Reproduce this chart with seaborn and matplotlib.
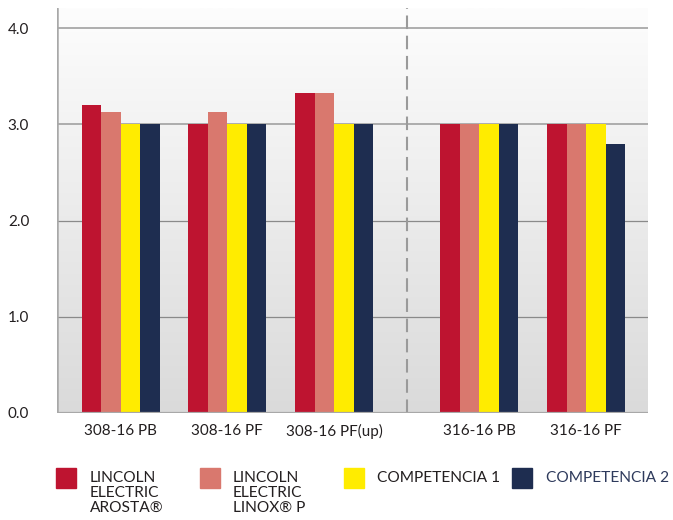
import numpy as np
import pandas as pd
import seaborn as sns
from matplotlib import pyplot as plt
from matplotlib.patches import Rectangle
from matplotlib.colors import LinearSegmentedColormap

# values
groups = ['308-16 PB', '308-16 PF', '308-16 PF(up)', '316-16 PB', '316-16 PF']
series = ['AROSTA', 'LINOX P', 'COMPETENCIA 1', 'COMPETENCIA 2']
legend_labels = ['LINCOLN\nELECTRIC\nAROSTA®', 'LINCOLN\nELECTRIC\nLINOX® P',
                 'COMPETENCIA 1', 'COMPETENCIA 2']
arosta = [3.2, 3.0, 3.33, 3.0, 3.0]
linox = [3.13, 3.13, 3.33, 3.0, 3.0]
comp1 = [3.0, 3.0, 3.0, 3.0, 3.0]
comp2 = [3.0, 3.0, 3.0, 3.0, 2.8]
y_ticks = [0, 1, 2, 3, 4]
y_labels = ['0.0', '1.0', '2.0', '3.0', '4.0']

# layout: group positions (gap before the 316 groups)
group_x = [0, 1, 2, 3.36, 4.36]
colors = ['#be1430', '#d9786e', '#ffec00', '#1e2d50']

rows = []
for name, vals in zip(series, [arosta, linox, comp1, comp2]):
    for gx, v in zip(group_x, vals):
        rows.append({'pos': gx, 'value': v, 'series': name})
df = pd.DataFrame(rows)

sns.set_style('white')
plt.rcParams['font.family'] = ['Lato', 'DejaVu Sans']

W, H = 673, 520
fig = plt.figure(figsize=(W / 100, H / 100), dpi=100)
ax = fig.add_axes([57 / W, 1 - 413 / H, (648 - 57) / W, (413 - 8) / H])

xlo, xhi, ytop = -0.595, 4.94, 4.21

# background gradient
cmap = LinearSegmentedColormap.from_list('bg', ['#dadada', '#fdfdfd'])
grad = np.linspace(0, 1, 256).reshape(-1, 1)
ax.imshow(grad, extent=[xlo, xhi, 0, ytop], aspect='auto', cmap=cmap,
          origin='lower', zorder=0)

for yv in [1, 2]:
    ax.axhline(yv, color='#8a8a8a', lw=0.9, zorder=1)
for yv in [3, 4]:
    ax.axhline(yv, color='#adadad', lw=1.4, zorder=1)

sns.barplot(data=df, x='pos', y='value', hue='series', hue_order=series,
            palette=colors, native_scale=True, width=0.73, errorbar=None,
            saturation=1, legend=False, linewidth=0, ax=ax, zorder=2)

ax.axvline(2.68, color='#9a9a9a', lw=1.5, linestyle=(0, (6.5, 3.2)), zorder=1)
ax.axhline(0, color='#a8a8a8', lw=1.6, zorder=3)
ax.axvline(xlo, color='#a8a8a8', lw=1.8, zorder=3)

ax.set_xlim(xlo, xhi)
ax.set_ylim(0, ytop)
for s in ax.spines.values():
    s.set_visible(False)

ax.set_yticks(y_ticks)
ax.set_yticklabels(y_labels)
ax.set_xticks(group_x)
ax.set_xticklabels(groups)
ax.tick_params(axis='y', length=0, pad=20, labelsize=11, labelcolor='#231f20')
ax.tick_params(axis='x', length=0, pad=8, labelsize=11, labelcolor='#231f20')
ax.set_xlabel('')
ax.set_ylabel('')

# legend drawn by hand to match the layout
sq_x = [56, 200, 344, 512]
tx_x = [90, 233, 377, 546]
txt_cols = ['#231f20', '#231f20', '#231f20', '#2e3a5c']
for c, sx, tx, lab, tc in zip(colors, sq_x, tx_x, legend_labels, txt_cols):
    fig.add_artist(Rectangle((sx / W, 1 - 488 / H), 20 / W, 20 / H,
                             transform=fig.transFigure, color=c))
    fig.text(tx / W, 1 - 471 / H, lab, ha='left', va='top', fontsize=11.2,
             color=tc, linespacing=1.1)

plt.savefig('out.png', dpi=100)
